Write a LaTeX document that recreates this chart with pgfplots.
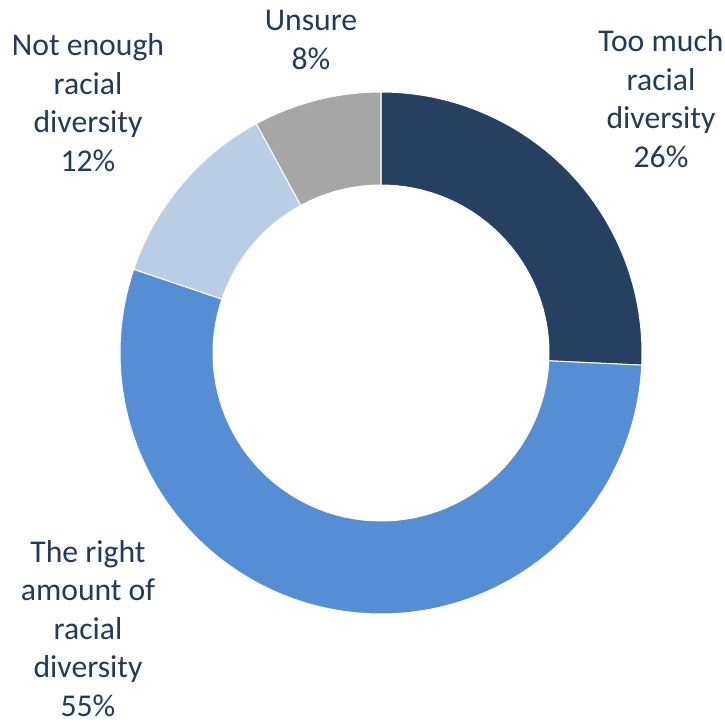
\documentclass[border=0pt]{standalone}
\usepackage{pgfplots}
\pgfplotsset{compat=1.18}
\usepackage{fontspec}
\setmainfont{Carlito}

\definecolor{tooMuch}{HTML}{264061}
\definecolor{rightAmt}{HTML}{558ED5}
\definecolor{notEnough}{HTML}{B9CDE5}
\definecolor{unsure}{HTML}{A6A6A6}
\definecolor{labelText}{HTML}{203A60}

% survey shares (percent)
\def\vA{26}\def\vB{55}\def\vC{12}\def\vD{8}
\pgfmathsetmacro\tot{\vA+\vB+\vC+\vD}
\pgfmathsetmacro\aA{90}
\pgfmathsetmacro\aB{\aA-\vA/\tot*360}
\pgfmathsetmacro\aC{\aB-\vB/\tot*360}
\pgfmathsetmacro\aD{\aC-\vC/\tot*360}
\pgfmathsetmacro\aE{\aD-\vD/\tot*360}
\def\cx{381}\def\cy{371}\def\R{261}\def\r{168}

\begin{document}
\begin{tikzpicture}
\begin{axis}[
    x=0.5bp, y=0.5bp,
    xmin=0, xmax=725, ymin=0, ymax=724,
    hide axis, clip=false,
    every axis plot/.append style={samples=120, variable=\t, draw=white, line width=0.5pt},
]
\addplot[fill=tooMuch, domain=\aB:\aA] ({\cx+\R*cos(\t)},{\cy+\R*sin(\t)}) -- (axis cs:\cx,\cy) -- cycle;
\addplot[fill=rightAmt, domain=\aC:\aB] ({\cx+\R*cos(\t)},{\cy+\R*sin(\t)}) -- (axis cs:\cx,\cy) -- cycle;
\addplot[fill=notEnough, domain=\aD:\aC] ({\cx+\R*cos(\t)},{\cy+\R*sin(\t)}) -- (axis cs:\cx,\cy) -- cycle;
\addplot[fill=unsure, domain=\aE:\aD] ({\cx+\R*cos(\t)},{\cy+\R*sin(\t)}) -- (axis cs:\cx,\cy) -- cycle;
\addplot[fill=white, domain=0:360] ({\cx+\r*cos(\t)},{\cy+\r*sin(\t)}) -- cycle;

\begin{scope}[every node/.style={align=center, text=labelText, font=\fontsize{15.9}{19.3}\selectfont}]
\node at (axis cs:661,625.5) {Too much\\racial\\diversity\\26\%};
\node at (axis cs:88,95.5) {The right\\amount of\\racial\\diversity\\55\%};
\node at (axis cs:88,621.5) {Not enough\\racial\\diversity\\12\%};
\node at (axis cs:311,684) {Unsure\\8\%};
\end{scope}
\coordinate (bl) at (axis cs:0,0);
\coordinate (tr) at (axis cs:725,724);
\end{axis}
\pgfresetboundingbox
\path (bl) rectangle (tr);
\end{tikzpicture}
\end{document}
